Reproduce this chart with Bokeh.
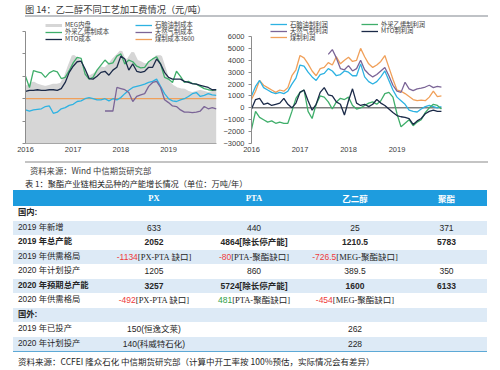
import numpy as np
from bokeh.plotting import figure
from bokeh.models import Legend, LegendItem, FixedTicker, CustomJSTickFormatter, Div, Range1d
from bokeh.layouts import column, row
from bokeh.embed import file_html
from bokeh.resources import INLINE

# ---------------- texts ----------------
TITLE = "图 14：乙二醇不同工艺加工费情况（元/吨）"
SOURCE_CHART = "资料来源：Wind 中信期货研究部"
TABLE_TITLE = "表 1：聚酯产业链相关品种的产能增长情况（单位：万吨/年）"
SOURCE_TABLE = "资料来源：CCFEI 隆众石化 中信期货研究部（计算中开工率按 100%预估，实际情况会有差异）"

year_ticks = [2016, 2017, 2018, 2019]
first_year = 2016  # series are monthly, starting January 2016

# ---------------- left chart: costs (yuan/t), monthly from 2016-01 ----------------
meg_price = [5000, 5200, 5400, 5200, 5100, 5000, 5100, 5200, 5200, 5300,
             5900, 6900, 7800, 7550, 7100, 6350, 5900, 6100, 6350, 6750,
             6650, 7000, 7450, 7800, 8200, 7300, 7550, 8100, 7350, 7200,
             7000, 7100, 7300, 7750, 7750, 6650, 5450, 5100, 4900, 4800,
             4750, 4550, 4450, 4550, 4650, 4550, 4450, 4550, 4550]
ethylene_cost = [6000, 5000, 6500, 6400, 6300, 5900, 6300, 6500, 6400, 5800,
                 5900, 6500, 7200, 7700, 7600, 6200, 5750, 5900, 6550, 7000,
                 7450, 7100, 7200, 7800, 8000, 7100, 7450, 7300, 6900, 6750,
                 6800, 7300, 7550, 7750, 7100, 5900, 5750, 5450, 6450, 6000,
                 5450, 5550, 5350, 5300, 5100, 4900, 4800, 4750, 4800]
mto_cost = [4650, 4750, 4750, 4800, 4750, 4750, 4800, 4800, 4750, 4900,
            5450, 6350, 6900, 7300, 7350, 6650, 5800, 5750, 6000, 6350,
            6450, 6100, 6550, 6800, 7800, 7550, 6550, 7100, 6450, 6350,
            6450, 6800, 6800, 7550, 7100, 6350, 5900, 5750, 5750, 5750,
            5550, 5450, 5350, 5300, 5200, 5100, 5000, 4800, 4800]
naphtha_cost = [3000, 2900, 3000, 3050, 3100, 3300, 3350, 2700, 2800, 3100,
                3200, 3400, 3500, 3750, 3800, 4000, 4100, 4000, 3900, 3900,
                4000, 3800, 4000, 3900, 4100, 4450, 4750, 5000, 5100, 5200,
                5300, 5450, 5550, 5750, 5100, 4450, 4000, 3800, 3750, 3900,
                4000, 4200, 4450, 4550, 4200, 4300, 4450, 4350, 4300]
gas_cost = [None] * 20 + [2900, 2900, 2900, 5000, 4900, 4800, 4550, 3750, 4200, 4350,
                          4450, 5100, 5450, 5550, 5000, 3900, 3650, 3350, 3300, 3000,
                          2800, 2800, 2750, 2800, 2900, 3300, 3100, 3200, 3100]
coal_cost = 4000
left_y_ticks = [0, 2000, 4000, 6000, 8000, 10000]

# ---------------- right chart: profits (yuan/t), monthly from 2016-01 ----------------
naphtha_profit = [1000, 1800, 2300, 1700, 1500, 1300, 1200, 1300, 1200, 1400,
                  2000, 2500, 3600, 3500, 3000, 2600, 2300, 2800, 2900, 3300,
                  3100, 2700, 2800, 3100, 3000, 2700, 2700, 3700, 2600, 2200,
                  2000, 2200, 2600, 3100, 2300, 1500, 900, 600, 300, -200,
                  -300, -350, -100, 100, 200, 100, 0, 100]
gas_profit = [None] * 19 + [4500, 4900, 4200, 3300, 3200, 3550, 3100, 3300, 4000, 3200,
                            2850, 2600, 2800, 3100, 3400, 2700, 1900, 1400, 1300, 2150,
                            1600, 1450, 1600, 1650, 1750, 1900, 1700, 1800, 1750]
coal_profit = [700, 1400, 2300, 1900, 1700, 1500, 1300, 1500, 1400, 1700,
               2700, 3200, 4400, 4200, 3700, 3100, 2700, 3300, 3400, 3800,
               3600, 4300, 3700, 4000, 4250, 3900, 4000, 5000, 4300, 3700,
               3400, 3600, 3900, 4400, 3400, 2400, 1500, 1400, 1200, 950,
               700, 600, 650, 600, 900, 1400, 950, 1000]
ethylene_profit = [-1800, -300, -800, -1000, -1200, -1100, -1300, -1200, -1300, -1300,
                   -300, 800, 1300, 1500, -300, -900, 300, 1000, 900, 500,
                   -100, 500, 800, 700, 900, 200, -100, 0, 200, 400,
                   500, 300, 600, 1200, 1300, 900, -500, -1600, -1300, -1000,
                   -1500, -1200, -1000, -400, 0, 300, 200, -100]
mto_profit = [-100, 700, 800, 300, 400, 200, 300, 400, 800, 300,
              0, 400, 1300, 1500, 600, -200, 300, 1300, 1700, 1100,
              1000, 500, 300, -600, 600, 1600, 400, 200, 300, 100,
              300, 700, 400, 200, -100, -400, -650, -750, -800, -900,
              -1400, -1100, -900, -500, -300, -200, -300, -300]
right_y_ticks = [-3000, -2000, -1000, 0, 1000, 2000, 3000, 4000, 5000, 6000]

# ---------------- table ----------------
table_columns = ["PX", "PTA", "乙二醇", "聚酯"]
row_labels = ["国内:", "2019 年新增", "2019 年总产能", "2019 年供需格局", "2020 年计划投产",
              "2020 年预期总产能", "2020 年供需格局", "国外:", "2019 年已投产", "2020 年计划投产"]
col_px = ["", "633", "2052", ("-1134", "[PX-PTA 缺口]"), "1205", "3257",
          ("-492", "[PX-PTA 缺口]"), "", "150(恒逸文莱)", "140(科威特石化)"]
col_pta = ["", "440", "4864[除长停产能]", ("-80", "[PTA-聚酯缺口]"), "860", "5724[除长停产能]",
           ("481", "[PTA-聚酯缺口]"), "", "", ""]
col_meg = ["", "25", "1210.5", ("-726.5", "[MEG-聚酯缺口]"), "389.5", "1600",
           ("-454", "[MEG-聚酯缺口]"), "", "262", "228"]
col_pet = ["", "371", "5783", "", "350", "6133", "", "", "", ""]
bold_rows = [True, False, True, False, False, True, False, True, False, False]

# ---------------- styles ----------------
C_NAPHTHA = "#2DB2E2"
C_ETHYLENE = "#3FAE6A"
C_MTO = "#1B2A48"
C_GAS = "#7B6597"
C_COAL = "#F0A05A"
C_MEG = "#D6D6D6"
C_TEXT = "#404040"
NUM_FONT = "Liberation Sans"
CJK_FONT = "Noto Sans CJK SC"
LW = 1.3
CH = 140  # chart row height
KEY_H = 20  # legend item box height


def months_to_years(n):
    return first_year + np.arange(n) / 12.0


def style_common(p):
    p.outline_line_color = None
    p.grid.visible = False
    p.background_fill_color = "white"
    p.border_fill_color = "white"
    p.xaxis.ticker = FixedTicker(ticks=year_ticks)
    p.xaxis.major_label_overrides = {y: str(y) for y in year_ticks}
    p.xaxis.major_tick_out = 0
    p.xaxis.major_tick_in = 0
    p.xaxis.minor_tick_line_color = None
    p.xaxis.major_label_standoff = 3
    for ax in (p.xaxis, p.yaxis):
        ax.major_label_text_font = NUM_FONT
        ax.major_label_text_font_size = "7.5px"
        ax.major_label_text_color = C_TEXT
    p.yaxis.minor_tick_line_color = None
    p.yaxis.major_tick_in = 0
    p.yaxis.major_tick_out = 3
    p.yaxis.axis_line_color = "#8C8C8C"
    p.yaxis.major_tick_line_color = "#8C8C8C"


def add_key(p, renderer, label, vx, center_from_bottom):
    vy = center_from_bottom - KEY_H / 2
    lg = Legend(items=[LegendItem(label=label, renderers=[renderer])], location=(vx, vy),
                padding=0, margin=0, spacing=0, border_line_color=None,
                background_fill_alpha=0, glyph_width=17, glyph_height=KEY_H,
                label_height=KEY_H, label_standoff=3, label_text_font=CJK_FONT,
                label_text_font_size="6.3px", label_text_color=C_TEXT)
    p.add_layout(lg, "center")


# ---------------- left chart ----------------
# frame spans the whole figure height above the axis so that the keys (drawn
# inside the frame) are not clipped; the axis itself is bounded to 0..10000
tl = months_to_years(len(meg_price))
left = figure(width=220, height=CH, output_backend="svg", toolbar_location=None,
              x_range=Range1d(2016, 2020.09), y_range=Range1d(0, 11160),
              min_border_left=25, min_border_right=0, min_border_top=0, min_border_bottom=15)
style_common(left)
left.yaxis.ticker = FixedTicker(ticks=left_y_ticks)
left.yaxis.formatter = CustomJSTickFormatter(code="return ''")
left.yaxis.major_label_standoff = 0
left.yaxis.bounds = (left_y_ticks[0], left_y_ticks[-1])
left.xaxis.axis_line_color = "#A6A6A6"
left.xaxis.bounds = (float(tl[0]), float(tl[-1]))

left.varea(x=tl, y1=0, y2=meg_price, fill_color=C_MEG)
r_meg = left.line(tl, meg_price, line_color=C_MEG, line_width=3)
r_coal = left.segment(x0=tl[0], y0=coal_cost, x1=tl[-1], y1=coal_cost, line_color=C_COAL, line_width=LW)
r_nap = left.line(tl, np.array(naphtha_cost, dtype=float), line_color=C_NAPHTHA, line_width=LW)
r_gas = left.line(tl, np.array(gas_cost, dtype=float), line_color=C_GAS, line_width=LW)
r_eth = left.line(tl, np.array(ethylene_cost, dtype=float), line_color=C_ETHYLENE, line_width=LW)
r_mto = left.line(tl, np.array(mto_cost, dtype=float), line_color=C_MTO, line_width=LW)

# legend rows: distance of row centre above the frame bottom (px)
L_ROWS = [118.5, 111.5, 104.5]
add_key(left, r_meg, "MEG内盘", 20, L_ROWS[0])
add_key(left, r_eth, "外采乙烯制成本", 20, L_ROWS[1])
add_key(left, r_mto, "MTO成本", 20, L_ROWS[2])
add_key(left, r_nap, "石脑油制成本", 110, L_ROWS[0])
add_key(left, r_gas, "天然气制成本", 110, L_ROWS[1])
add_key(left, r_coal, "煤制成本3600", 110, L_ROWS[2])

# ---------------- right chart ----------------
tr = months_to_years(len(coal_profit))
right = figure(width=280, height=CH, output_backend="svg", toolbar_location=None,
               x_range=Range1d(2016, 2020.31), y_range=Range1d(-3000, 7514),
               min_border_left=28, min_border_right=40, min_border_top=0, min_border_bottom=15)
style_common(right)
right.yaxis.ticker = FixedTicker(ticks=right_y_ticks)
right.yaxis.major_label_standoff = 4
right.yaxis.bounds = (right_y_ticks[0], right_y_ticks[-1])
right.xaxis.axis_line_color = None

right.segment(x0=tr[0], y0=0, x1=tr[-1], y1=0, line_color="#404040", line_width=1)
q_coal = right.line(tr, np.array(coal_profit, dtype=float), line_color=C_COAL, line_width=LW)
q_gas = right.line(tr, np.array(gas_profit, dtype=float), line_color=C_GAS, line_width=LW)
q_nap = right.line(tr, np.array(naphtha_profit, dtype=float), line_color=C_NAPHTHA, line_width=LW)
q_eth = right.line(tr, np.array(ethylene_profit, dtype=float), line_color=C_ETHYLENE, line_width=LW)
q_mto = right.line(tr, np.array(mto_profit, dtype=float), line_color=C_MTO, line_width=LW)

R_ROWS = [118.7, 112.2, 105.7]
add_key(right, q_nap, "石脑油制利润", 19, R_ROWS[0])
add_key(right, q_gas, "天然气制利润", 19, R_ROWS[1])
add_key(right, q_coal, "煤制利润", 19, R_ROWS[2])
add_key(right, q_eth, "外采乙烯制利润", 110, R_ROWS[0])
add_key(right, q_mto, "MTO制利润", 110, R_ROWS[1])

# ---------------- HTML blocks ----------------
SANS = "'Liberation Sans','Noto Sans CJK SC',sans-serif"
SERIF = "'Liberation Serif','Noto Sans CJK SC',serif"
CJK = "'Noto Sans CJK SC',sans-serif"
RED = "#EE3B3B"
GREEN = "#2E9E44"
HEAD_BG = "#1E9CDE"
ROW_BG = "#DDEAF6"

title_html = (
    '<div style="position:relative;width:500px;height:18px;">'
    f'<div style="position:absolute;left:25px;top:2.5px;font-family:{CJK};font-size:9.2px;'
    f'line-height:12px;color:#383838;white-space:nowrap;">{TITLE}</div>'
    '<div style="position:absolute;left:25px;top:14.5px;width:463px;height:2px;background:#BFC2C6;"></div>'
    '</div>')

# column geometry (px within the block)
TBL_LEFT, TBL_W = 13, 474
col_edges = [13, 104, 204, 304, 406, 487]
TABLE_TOP, HEAD_H, ROW_H = 32, 16, 14.5


def cell_content(v, bold):
    weight = "bold" if bold else "normal"
    if isinstance(v, tuple):
        num, note = v
        c = RED if num.startswith("-") else GREEN
        return (f'<span style="color:{c};font-family:{SANS};font-weight:{weight};">{num}</span>'
                f'<span style="font-family:{SERIF};font-weight:{weight};">{note}</span>')
    return f'<span style="font-family:{SANS};font-weight:{weight};">{v}</span>'


parts = ['<div style="position:relative;width:500px;height:212px;color:#262626;">']
parts.append('<div style="position:absolute;left:25px;top:3px;width:463px;height:2px;background:#C4C4C4;"></div>')
parts.append(f'<div style="position:absolute;left:30px;top:7px;font-family:{CJK};font-size:8.3px;'
             f'line-height:10px;color:#404040;white-space:nowrap;">{SOURCE_CHART}</div>')
parts.append(f'<div style="position:absolute;left:25px;top:20px;font-family:{CJK};font-size:8.2px;'
             f'line-height:10px;color:#262626;white-space:nowrap;">{TABLE_TITLE}</div>')
# header
parts.append(f'<div style="position:absolute;left:{TBL_LEFT}px;top:{TABLE_TOP}px;width:{TBL_W}px;'
             f'height:{HEAD_H}px;background:{HEAD_BG};"></div>')
for j, name in enumerate(table_columns):
    x0, x1 = col_edges[j + 1], col_edges[j + 2]
    fam = SERIF if name.isascii() else CJK
    parts.append(f'<div style="position:absolute;left:{x0}px;top:{TABLE_TOP}px;width:{x1 - x0}px;'
                 f'height:{HEAD_H}px;display:flex;align-items:center;justify-content:center;'
                 f'font-family:{fam};font-weight:bold;font-size:8.5px;color:white;">{name}</div>')
cols = [col_px, col_pta, col_meg, col_pet]
for i, lab in enumerate(row_labels):
    top = TABLE_TOP + HEAD_H + i * ROW_H
    bg = ROW_BG if i % 2 == 1 else "#FFFFFF"
    weight = "bold" if bold_rows[i] else "normal"
    parts.append(f'<div style="position:absolute;left:{TBL_LEFT}px;top:{top:.1f}px;width:{TBL_W}px;'
                 f'height:{ROW_H}px;background:{bg};"></div>')
    parts.append(f'<div style="position:absolute;left:18px;top:{top:.1f}px;height:{ROW_H}px;'
                 f'display:flex;align-items:center;font-family:{SANS};font-size:8.3px;'
                 f'font-weight:{weight};white-space:nowrap;">{lab}</div>')
    for j, col in enumerate(cols):
        v = col[i]
        if v == "":
            continue
        x0, x1 = col_edges[j + 1], col_edges[j + 2]
        parts.append(f'<div style="position:absolute;left:{x0}px;top:{top:.1f}px;width:{x1 - x0}px;'
                     f'height:{ROW_H}px;display:flex;align-items:center;justify-content:center;'
                     f'font-size:8.5px;white-space:nowrap;">{cell_content(v, bold_rows[i])}</div>')
bottom = TABLE_TOP + HEAD_H + len(row_labels) * ROW_H
parts.append(f'<div style="position:absolute;left:{TBL_LEFT}px;top:{bottom:.1f}px;width:{TBL_W}px;'
             f'height:1px;background:#5DA9D6;"></div>')
parts.append(f'<div style="position:absolute;left:18px;top:198px;font-family:{CJK};font-size:8.5px;'
             f'line-height:10px;color:#262626;white-space:nowrap;">{SOURCE_TABLE}</div>')
parts.append('</div>')
table_html = "".join(parts)

title_div = Div(text=title_html, width=500, height=18, margin=(0, 0, 0, 0))
table_div = Div(text=table_html, width=500, height=212, margin=(0, 0, 0, 0))

layout = column(title_div, row(left, right), table_div)

with open("out.html", "w") as f:
    f.write(file_html(layout, INLINE, title="乙二醇加工费"))
